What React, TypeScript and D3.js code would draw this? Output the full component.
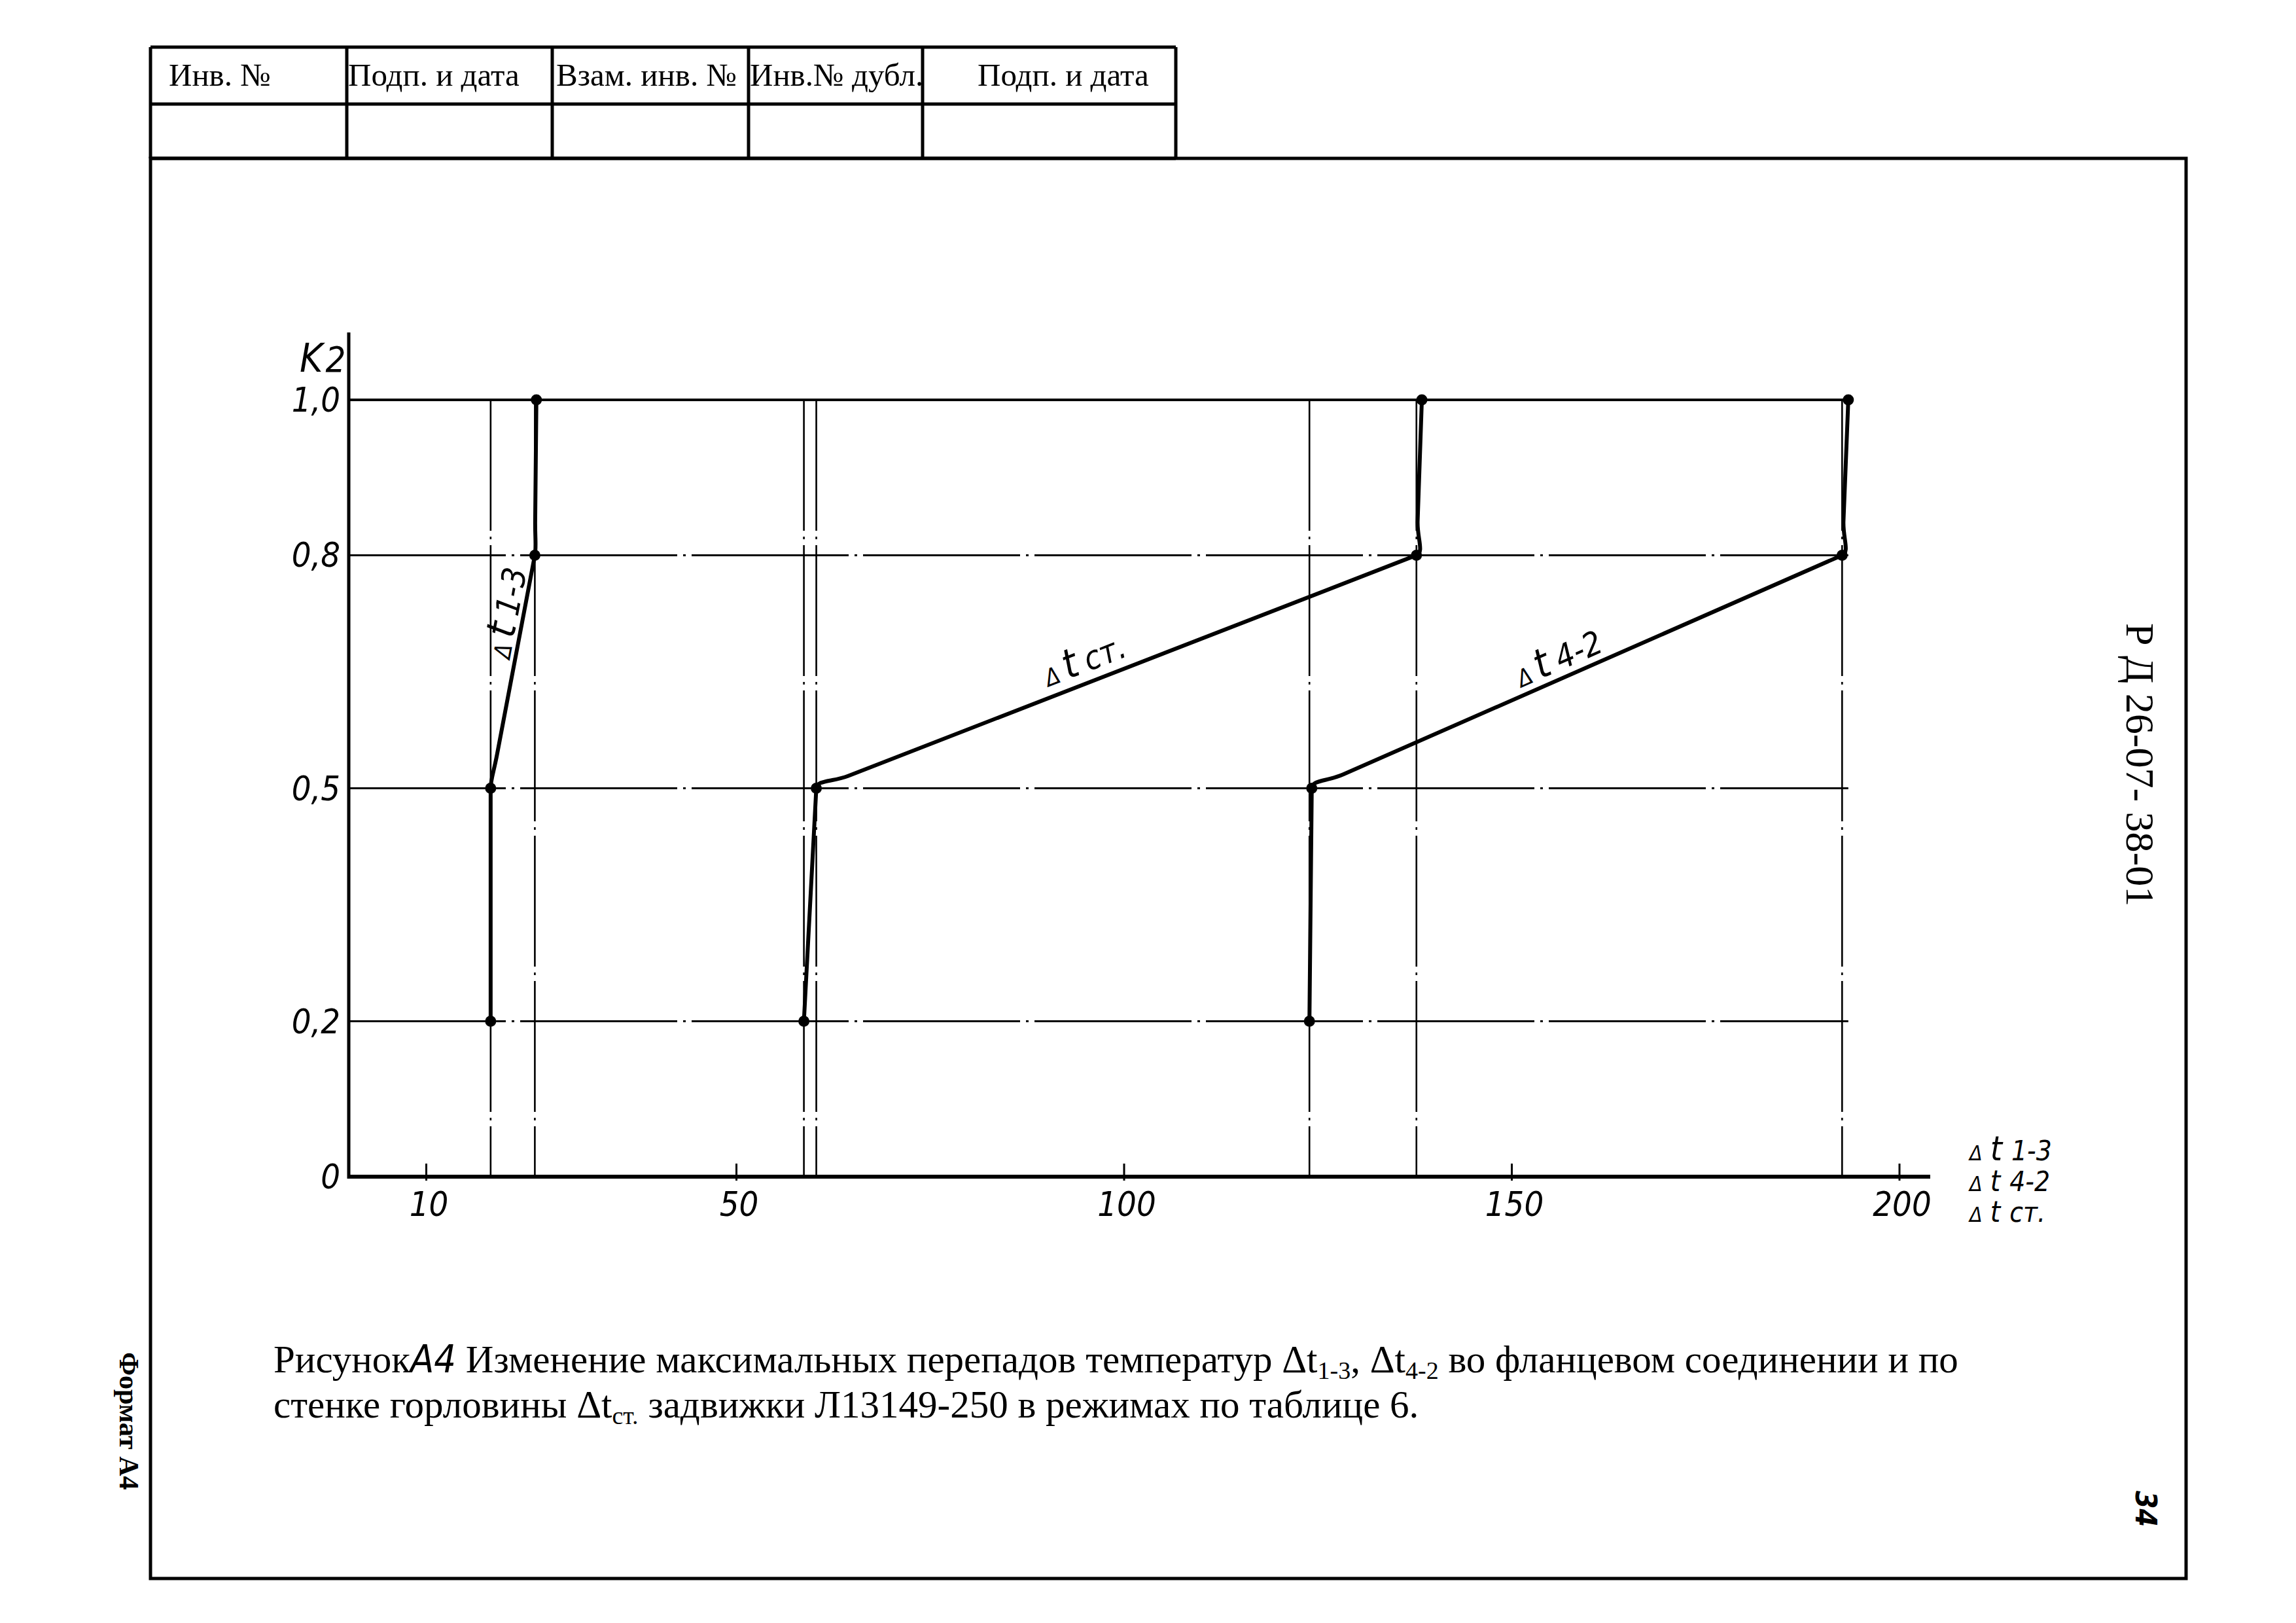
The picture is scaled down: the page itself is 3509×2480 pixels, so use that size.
import React from 'react';
import * as d3 from 'd3';

// Coefficient levels (vertical axis)
const kLevels = [0.2, 0.5, 0.8, 1.0];
// Temperature differences at each level
const dt13 = [18.3, 18.3, 24.0, 24.2];
const dtSt = [58.7, 60.3, 137.7, 138.4];
const dt42 = [123.9, 124.2, 192.6, 193.4];

const xTickValues = [10, 50, 100, 150, 200];
const yTickValues = [0, 0.2, 0.5, 0.8, 1.0];
const yTickLabels = ['0', '0,2', '0,5', '0,8', '1,0'];

const seriesSubs = ['1-3', 'ст.', '4-2'];
const legendSubs = ['1-3', '4-2', 'ст.'];

const headerLabels = ['Инв. №', 'Подп. и дата', 'Взам. инв. №', 'Инв.№ дубл.', 'Подп. и дата'];
const docCode = 'Р Д 26-07- 38-01';
const pageNumber = '34';
const formatLabel = 'Формат А4';

const HAND = "'Liberation Sans Narrow','DejaVu Sans Condensed','DejaVu Sans',sans-serif";
const SERIF = "'Liberation Serif','DejaVu Serif',serif";

// Polyline through the points with small rounded bends after each interior point
function cornerPath(pts: [number, number][], r: number): string {
  const p = d3.path();
  p.moveTo(pts[0][0], pts[0][1]);
  for (let i = 1; i < pts.length; i++) {
    const [px, py] = pts[i];
    p.lineTo(px, py);
    if (i < pts.length - 1) {
      const [ax, ay] = pts[i - 1];
      const [bx, by] = pts[i + 1];
      const li = Math.hypot(px - ax, py - ay);
      const lo = Math.hypot(bx - px, by - py);
      const ix = (px - ax) / li, iy = (py - ay) / li;
      const ox = (bx - px) / lo, oy = (by - py) / lo;
      const rr = Math.min(r, li / 4, lo / 4);
      p.bezierCurveTo(
        px + ix * rr * 0.5, py + iy * rr * 0.5,
        px + ox * rr, py + oy * rr,
        px + ox * 2 * rr, py + oy * 2 * rr
      );
    }
  }
  return p.toString();
}

export default function App() {
  const W = 3509, H = 2480;
  const x = d3.scaleLinear().domain([0, 200]).range([533, 2903]);
  const y = d3.scaleLinear().domain([0, 1]).range([1798, 611]);

  const series = [
    { sub: seriesSubs[0], values: dt13, t: 0.74, off: 8 },
    { sub: seriesSubs[1], values: dtSt, t: 0.46, off: 16 },
    { sub: seriesSubs[2], values: dt42, t: 0.48, off: 12 },
  ];

  const xEnd = x(d3.max(dt42) as number);

  // guide verticals at every distinct point position
  const guides: number[] = [];
  [dt13, dtSt, dt42].forEach((vals) =>
    vals.forEach((v) => {
      if (!guides.some((g) => Math.abs(g - v) < 1)) guides.push(v);
    })
  );

  const headerCols = [230, 530, 844, 1144, 1410, 1797];
  const headerRows = [72, 159, 242];
  const headerTextX = [258, 532, 850, 1146, 1494];
  const frame = { l: 230, t: 242, r: 3341, b: 2412 };
  const lineW = 5;

  return (
    <svg
      width={W}
      height={H}
      viewBox={`0 0 ${W} ${H}`}
      style={{ position: 'absolute', left: 0, top: 0, background: '#fff' }}
    >
      <rect x={0} y={0} width={W} height={H} fill="#fff" />

      {/* stamp table */}
      <g stroke="#000" strokeWidth={lineW} fill="none">
        {headerRows.map((ry, i) => (
          <line key={'hr' + i} x1={headerCols[0]} x2={headerCols[headerCols.length - 1]} y1={ry} y2={ry} />
        ))}
        {headerCols.map((cx, i) => (
          <line key={'hc' + i} x1={cx} x2={cx} y1={headerRows[0]} y2={headerRows[2]} />
        ))}
      </g>
      <g fontFamily={SERIF} fontSize={49} fill="#000">
        {headerLabels.map((lab, i) => (
          <text key={'hl' + i} x={headerTextX[i]} y={131} style={{ whiteSpace: 'pre' }}>
            {lab}
          </text>
        ))}
      </g>

      {/* page frame */}
      <rect
        x={frame.l}
        y={frame.t}
        width={frame.r - frame.l}
        height={frame.b - frame.t}
        fill="none"
        stroke="#000"
        strokeWidth={lineW}
      />

      {/* horizontal grid levels */}
      <g stroke="#000" fill="none">
        {kLevels.map((k, i) => (
          <line
            key={'gh' + i}
            x1={x(0)}
            x2={xEnd}
            y1={y(k)}
            y2={y(k)}
            strokeWidth={k === 1 ? 4 : 3}
            strokeDasharray={k === 1 ? undefined : '240 9 4 9'}
          />
        ))}
        {guides.map((g, i) => (
          <line
            key={'gv' + i}
            x1={x(g)}
            x2={x(g)}
            y1={y(1)}
            y2={y(0)}
            strokeWidth={2.6}
            strokeDasharray="200 9 4 9"
          />
        ))}
      </g>

      {/* axes */}
      <g stroke="#000" fill="none">
        <line x1={x(0)} x2={x(0)} y1={508} y2={y(0) + 3} strokeWidth={5} />
        <line x1={x(0)} x2={2950} y1={y(0)} y2={y(0)} strokeWidth={6} />
        {xTickValues.map((v, i) => (
          <line key={'xt' + i} x1={x(v)} x2={x(v)} y1={y(0) - 20} y2={y(0) + 6} strokeWidth={3} />
        ))}
      </g>

      {/* axis labels */}
      <g fontFamily={HAND} fontStyle="italic" fill="#000">
        {yTickValues.map((v, i) => (
          <text key={'yl' + i} x={520} y={y(v) + 18} fontSize={52} textAnchor="end">
            {yTickLabels[i]}
          </text>
        ))}
        {xTickValues.map((v, i) => (
          <text key={'xl' + i} x={x(v) + 4} y={y(0) + 60} fontSize={52} textAnchor="middle">
            {v}
          </text>
        ))}
        <text x={458} y={568} fontSize={60}>
          K<tspan fontSize={54} dx={4}>2</tspan>
        </text>
        {legendSubs.map((s, i) => (
          <text key={'lg' + i} x={3010} y={1773 + i * 47} fontSize={42}>
            <tspan fontSize={32}>Δ</tspan>
            <tspan fontSize={i === 0 ? 52 : 44} dx={12}>t</tspan>
            <tspan dx={14}>{s}</tspan>
          </text>
        ))}
      </g>

      {/* curves */}
      {series.map((s, si) => {
        const pts = s.values.map((v, i) => [x(v), y(kLevels[i])] as [number, number]);
        return (
          <g key={'s' + si}>
            <path d={cornerPath(pts, 26)} fill="none" stroke="#000" strokeWidth={6} strokeLinejoin="round" strokeLinecap="round" />
            {pts.map((p, i) => (
              <circle key={'d' + i} cx={p[0]} cy={p[1]} r={8.5} fill="#000" />
            ))}
          </g>
        );
      })}

      {/* curve labels */}
      <g fontFamily={HAND} fontStyle="italic" fill="#000">
        {series.map((s, si) => {
          const p1 = [x(s.values[1]), y(kLevels[1])];
          const p2 = [x(s.values[2]), y(kLevels[2])];
          const ang = (Math.atan2(p2[1] - p1[1], p2[0] - p1[0]) * 180) / Math.PI;
          const cx = p1[0] + (p2[0] - p1[0]) * s.t;
          const cy = p1[1] + (p2[1] - p1[1]) * s.t;
          return (
            <text
              key={'cl' + si}
              transform={`translate(${cx},${cy}) rotate(${ang})`}
              y={-s.off}
              textAnchor="middle"
              fontSize={50}
            >
              <tspan fontSize={36}>Δ</tspan>
              <tspan fontSize={62} dx={10}>t</tspan>
              <tspan dx={12}>{s.sub}</tspan>
            </text>
          );
        })}
      </g>

      {/* caption */}
      <g fontFamily={SERIF} fontSize={59} fill="#000" style={{ whiteSpace: 'pre' }}>
        <text x={418} y={2097}>
          Рисунок<tspan fontFamily={HAND} fontStyle="italic">А4</tspan>
          {'  Изменение максимальных перепадов температур Δt'}
          <tspan fontSize={38} dy={10}>1-3</tspan>
          <tspan dy={-10}>{', Δt'}</tspan>
          <tspan fontSize={38} dy={10}>4-2</tspan>
          <tspan dy={-10}>{' во фланцевом соединении и по'}</tspan>
        </text>
        <text x={418} y={2166}>
          {'стенке горловины Δt'}
          <tspan fontSize={38} dy={10}>ст.</tspan>
          <tspan dy={-10}>{' задвижки Л13149-250 в режимах по таблице 6.'}</tspan>
        </text>
      </g>

      {/* margin notes */}
      <text transform="translate(3250,952) rotate(90)" fontFamily={SERIF} fontSize={62} fill="#000" style={{ whiteSpace: 'pre' }}>
        {docCode}
      </text>
      <text transform="translate(3264,2278) rotate(90)" fontFamily={HAND} fontStyle="italic" fontWeight="bold" fontSize={44} fill="#000">
        {pageNumber}
      </text>
      <text transform="translate(183,2066) rotate(90)" fontFamily={SERIF} fontWeight="bold" fontSize={42} fill="#000">
        {formatLabel}
      </text>
    </svg>
  );
}
